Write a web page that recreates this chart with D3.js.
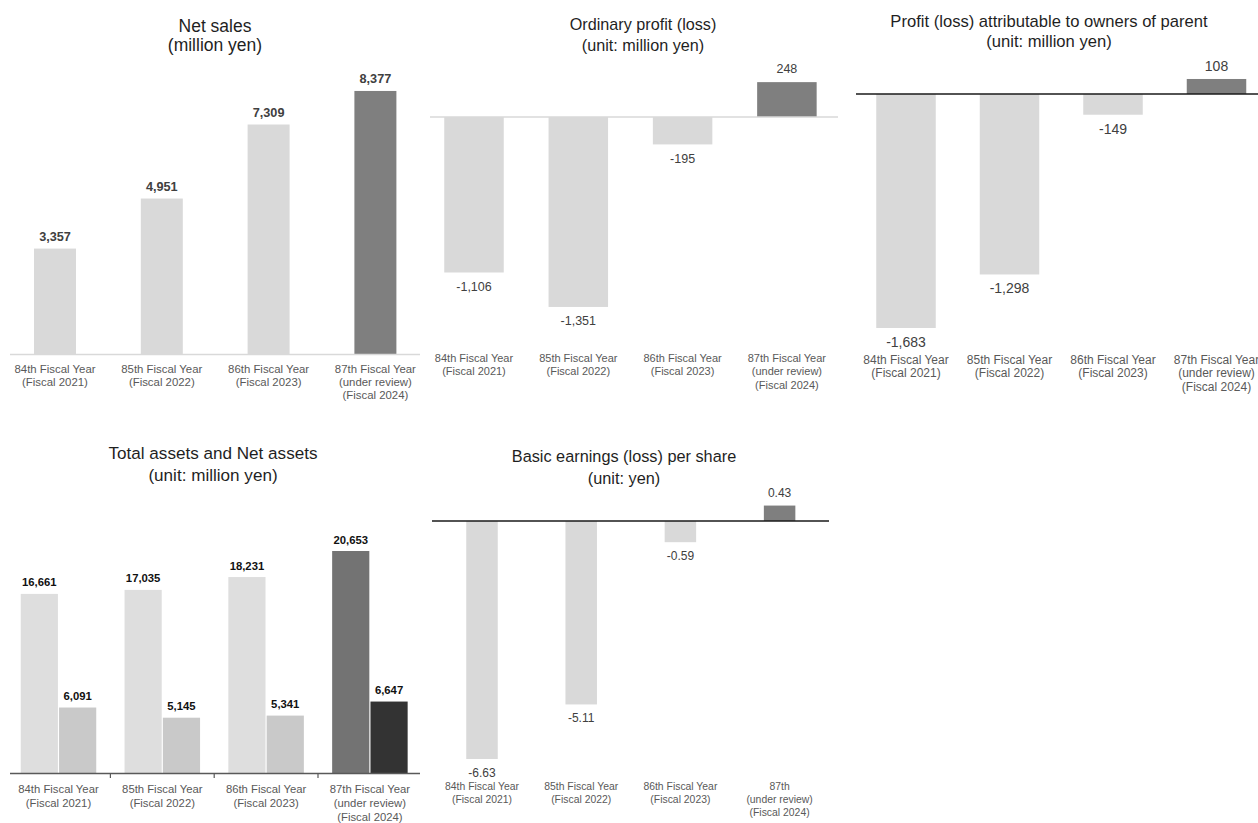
<!DOCTYPE html>
<html>
<head>
<meta charset="utf-8">
<script src="https://cdn.jsdelivr.net/npm/d3@7"></script>
<style>
  html, body { margin: 0; padding: 0; background: #fff; }
  svg { display: block; font-family: "Liberation Sans", Arial, sans-serif; }
</style>
</head>
<body>
<svg id="chart" width="1258" height="823"></svg>
<script>
// ---------- data ----------
const categoryLines = [
  ["84th Fiscal Year", "(Fiscal 2021)"],
  ["85th Fiscal Year", "(Fiscal 2022)"],
  ["86th Fiscal Year", "(Fiscal 2023)"],
  ["87th Fiscal Year", "(under review)", "(Fiscal 2024)"]
];
const epsCategoryLines = [
  ["84th Fiscal Year", "(Fiscal 2021)"],
  ["85th Fiscal Year", "(Fiscal 2022)"],
  ["86th Fiscal Year", "(Fiscal 2023)"],
  ["87th", "(under review)", "(Fiscal 2024)"]
];
const categories = ["FY2021", "FY2022", "FY2023", "FY2024"];
const netSales = [3357, 4951, 7309, 8377];
const ordinaryProfit = [-1106, -1351, -195, 248];
const profitAttributable = [-1683, -1298, -149, 108];
const totalAssets = [16661, 17035, 18231, 20653];
const netAssets = [6091, 5145, 5341, 6647];
const eps = [-6.63, -5.11, -0.59, 0.43];
const assetSeries = ["Total assets", "Net assets"];

const svg = d3.select("#chart");
const locale = d3.formatLocale({ decimal: ".", thousands: ",", grouping: [3], currency: ["", ""], minus: "-" });
const fmtInt = locale.format(",");
const fmtEps = locale.format(".2f");

function bandScale(center0, step, bw) {
  const p = 1 - bw / step;
  return d3.scaleBand().domain(categories)
    .range([center0 - step / 2, center0 - step / 2 + 4 * step])
    .paddingInner(p).paddingOuter(p / 2);
}

function title(g, cx, lines, size, baselines) {
  lines.forEach((t, i) => {
    g.append("text").attr("x", cx).attr("y", baselines[i])
      .attr("text-anchor", "middle").attr("font-size", size)
      .attr("fill", "#1f1f1f").text(t);
  });
}

function catLabels(g, x, lines, size, baselines, color) {
  categories.forEach((c, i) => {
    const cx = x(c) + x.bandwidth() / 2;
    lines[i].forEach((t, j) => {
      g.append("text").attr("x", cx).attr("y", baselines[j])
        .attr("text-anchor", "middle").attr("font-size", size)
        .attr("fill", color).text(t);
    });
  });
}

function signedPanel(opts) {
  const g = svg.append("g");
  const x = bandScale(opts.c0, opts.step, opts.bw);
  const y = d3.scaleLinear().domain(opts.domain).range(opts.range);
  title(g, opts.tx, opts.titles, opts.tsize, opts.tbase);
  g.selectAll("rect.bar").data(opts.values).join("rect")
    .attr("class", "bar")
    .attr("x", (d, i) => x(categories[i]))
    .attr("width", x.bandwidth())
    .attr("y", d => Math.min(y(d), y(0)))
    .attr("height", d => Math.abs(y(d) - y(0)))
    .attr("fill", (d, i) => i === 3 ? "#7f7f7f" : "#d9d9d9");
  g.append("line").attr("x1", opts.lx[0]).attr("x2", opts.lx[1])
    .attr("y1", y(0)).attr("y2", y(0))
    .attr("stroke", opts.lineColor).attr("stroke-width", opts.lineW);
  g.selectAll("text.val").data(opts.values).join("text")
    .attr("class", "val")
    .attr("x", (d, i) => x(categories[i]) + x.bandwidth() / 2)
    .attr("y", d => d >= 0 ? y(d) - opts.above : y(d) + opts.below)
    .attr("text-anchor", "middle").attr("font-size", opts.vsize)
    .attr("fill", "#404040").text(d => opts.fmt(d));
  catLabels(g, x, opts.cats, opts.csize, opts.cbase, "#595959");
}

// ---------- Panel 1: Net sales ----------
(function () {
  const g = svg.append("g");
  const x = bandScale(55, 106.8, 42);
  const y = d3.scaleLinear().domain([0, 10000]).range([354, 40]);
  title(g, 215, ["Net sales", "(million yen)"], 17.5, [32, 50.5]);
  g.selectAll("rect").data(netSales).join("rect")
    .attr("x", (d, i) => x(categories[i]))
    .attr("width", x.bandwidth())
    .attr("y", d => y(d)).attr("height", d => y(0) - y(d))
    .attr("fill", (d, i) => i === 3 ? "#7f7f7f" : "#d9d9d9");
  g.append("line").attr("x1", 10).attr("x2", 420)
    .attr("y1", y(0) + 0.5).attr("y2", y(0) + 0.5)
    .attr("stroke", "#d9d9d9").attr("stroke-width", 1.5);
  g.selectAll("text.val").data(netSales).join("text")
    .attr("class", "val")
    .attr("x", (d, i) => x(categories[i]) + x.bandwidth() / 2)
    .attr("y", d => y(d) - 7.5)
    .attr("text-anchor", "middle").attr("font-size", 12.7)
    .attr("font-weight", "bold").attr("fill", "#404040")
    .text(d => fmtInt(d));
  catLabels(g, x, categoryLines, 11.4, [373, 386, 399], "#595959");
})();

// ---------- Panel 2: Ordinary profit ----------
signedPanel({
  c0: 474, step: 104.3, bw: 59.5,
  domain: [-1400, 300], range: [117 + 1400 * 0.1406, 117 - 300 * 0.1406],
  values: ordinaryProfit, fmt: fmtInt,
  tx: 643, titles: ["Ordinary profit (loss)", "(unit: million yen)"], tsize: 16.2, tbase: [30, 51],
  lx: [430, 838], lineColor: "#d9d9d9", lineW: 1.5,
  above: 9.5, below: 18.5, vsize: 12.5,
  cats: categoryLines, csize: 11, cbase: [361.7, 375.3, 389]
});

// ---------- Panel 3: Profit attributable ----------
signedPanel({
  c0: 906, step: 103.5, bw: 59.5,
  domain: [-1700, 200], range: [94 + 1700 * 0.13904, 94 - 200 * 0.13904],
  values: profitAttributable, fmt: fmtInt,
  tx: 1049, titles: ["Profit (loss) attributable to owners of parent", "(unit: million yen)"], tsize: 16.6, tbase: [27, 47],
  lx: [856, 1258], lineColor: "#1a1a1a", lineW: 1.3,
  above: 8, below: 19, vsize: 14,
  cats: categoryLines, csize: 12, cbase: [363.5, 377.2, 391]
});

// ---------- Panel 4: Total assets and Net assets ----------
(function () {
  const g = svg.append("g");
  const x = bandScale(58.5, 103.8, 75.5);
  const xs = d3.scaleBand().domain(assetSeries).range([0, x.bandwidth()]).paddingInner(0.03);
  const y = d3.scaleLinear().domain([0, 25000]).range([773, 773 - 25000 * 0.010749]);
  const colors = {
    "Total assets": ["#dedede", "#737373"],
    "Net assets": ["#c9c9c9", "#333333"]
  };
  title(g, 213, ["Total assets and Net assets", "(unit: million yen)"], 17.1, [458.5, 480.8]);
  const rows = categories.map((c, i) => [
    { cat: c, i, s: "Total assets", v: totalAssets[i] },
    { cat: c, i, s: "Net assets", v: netAssets[i] }
  ]).flat();
  g.selectAll("rect").data(rows).join("rect")
    .attr("x", d => x(d.cat) + xs(d.s))
    .attr("width", xs.bandwidth())
    .attr("y", d => y(d.v)).attr("height", d => y(0) - y(d.v))
    .attr("fill", d => colors[d.s][d.i === 3 ? 1 : 0]);
  g.selectAll("text.val").data(rows).join("text")
    .attr("class", "val")
    .attr("x", d => x(d.cat) + xs(d.s) + xs.bandwidth() / 2)
    .attr("y", d => y(d.v) - 7.5)
    .attr("text-anchor", "middle").attr("font-size", 11.3)
    .attr("font-weight", "bold").attr("fill", "#111")
    .text(d => fmtInt(d.v));
  g.append("line").attr("x1", 10).attr("x2", 420)
    .attr("y1", y(0) + 0.5).attr("y2", y(0) + 0.5)
    .attr("stroke", "#595959").attr("stroke-width", 1.5);
  const step = x.step();
  categories.slice(1).forEach(c => {
    const bx = x(c) - (step - x.bandwidth()) / 2;
    g.append("line").attr("x1", bx).attr("x2", bx)
      .attr("y1", y(0)).attr("y2", y(0) + 5)
      .attr("stroke", "#595959").attr("stroke-width", 1.2);
  });
  catLabels(g, x, categoryLines, 11.3, [793, 806.8, 820.6], "#595959");
})();

// ---------- Panel 5: EPS ----------
signedPanel({
  c0: 482, step: 99.2, bw: 31.5,
  domain: [-7, 1], range: [521 + 7 * 35.9, 521 - 35.9],
  values: eps, fmt: fmtEps,
  tx: 624, titles: ["Basic earnings (loss) per share", "(unit: yen)"], tsize: 16.3, tbase: [461.7, 483.5],
  lx: [432, 829], lineColor: "#1a1a1a", lineW: 1.3,
  above: 8.5, below: 18, vsize: 12,
  cats: epsCategoryLines, csize: 10.4, cbase: [790, 803, 815.7]
});
</script>
</body>
</html>
